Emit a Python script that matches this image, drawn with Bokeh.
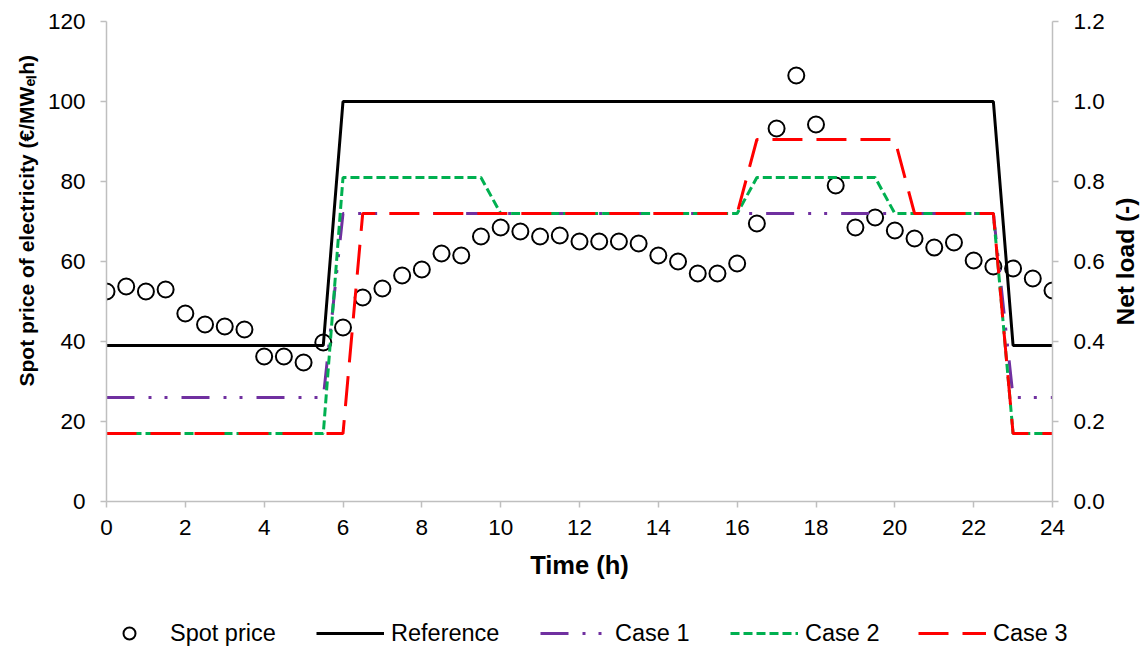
from bokeh.plotting import figure
from bokeh.layouts import column, row
from bokeh.models import (Range1d, LinearAxis, FixedTicker, NumeralTickFormatter,
                          Legend, LegendItem, Title)
from bokeh.embed import file_html
from bokeh.resources import INLINE

# ---------------- data ----------------
time_h = [0, 0.5, 1, 1.5, 2, 2.5, 3, 3.5, 4, 4.5, 5, 5.5, 6, 6.5, 7, 7.5, 8, 8.5,
          9, 9.5, 10, 10.5, 11, 11.5, 12, 12.5, 13, 13.5, 14, 14.5, 15, 15.5, 16,
          16.5, 17, 17.5, 18, 18.5, 19, 19.5, 20, 20.5, 21, 21.5, 22, 22.5, 23,
          23.5, 24]
spot_price = [52.5, 53.75, 52.5, 53, 47, 44.25, 43.75, 43, 36.25, 36.25, 34.75,
              39.75, 43.5, 51, 53.25, 56.5, 58, 62, 61.5, 66.25, 68.5, 67.5, 66.25,
              66.5, 65, 65, 65, 64.5, 61.5, 60, 57, 57, 59.5, 69.5, 93.25, 106.5,
              94.25, 79, 68.5, 71, 67.75, 65.75, 63.5, 64.75, 60.25, 58.75, 58.25,
              55.75, 52.75]

ref_time = [0, 5.5, 6, 22.5, 23, 24]
ref_load = [0.39, 0.39, 1.0, 1.0, 0.39, 0.39]

case1_time = [0, 5.5, 6, 22.5, 23, 24]
case1_load = [0.26, 0.26, 0.72, 0.72, 0.26, 0.26]

case2_time = [0, 5.5, 6, 9.5, 10, 16, 16.5, 19.5, 20, 22.5, 23, 24]
case2_load = [0.17, 0.17, 0.81, 0.81, 0.72, 0.72, 0.81, 0.81, 0.72, 0.72, 0.17, 0.17]

case3_time = [0, 6, 6.5, 16, 16.5, 20, 20.5, 22.5, 23, 24]
case3_load = [0.17, 0.17, 0.72, 0.72, 0.905, 0.905, 0.72, 0.72, 0.17, 0.17]

x_ticks = [0, 2, 4, 6, 8, 10, 12, 14, 16, 18, 20, 22, 24]
price_ticks = [0, 20, 40, 60, 80, 100, 120]
load_ticks = [0.0, 0.2, 0.4, 0.6, 0.8, 1.0, 1.2]

series_names = ["Spot price", "Reference", "Case 1", "Case 2", "Case 3"]
x_title = "Time (h)"
y_title = "Spot price of electricity (€/MW\u2091\u2097h)"
y2_title = "Net load (-)"

# ---------------- style ----------------
FONT = "Liberation Sans"
GRAY = "#BFBFBF"
PURPLE = "#7030A0"
GREEN = "#00B050"
RED = "#FF0000"
W_MAIN = 1108
W_SIDE = 40
H_MAIN = 600
H_LEG = 48

p = figure(width=W_MAIN, height=H_MAIN, output_backend="svg", toolbar_location=None,
           x_range=Range1d(0, 24), y_range=Range1d(0, 120),
           min_border_left=106, min_border_right=W_MAIN - 1052, min_border_top=21,
           min_border_bottom=H_MAIN - 501, outline_line_color=None,
           background_fill_color="white", border_fill_color="white")
p.frame_align = False
p.extra_y_ranges = {"load": Range1d(0, 1.2)}
p.xgrid.visible = False
p.ygrid.visible = False


def style_axis(ax, ticks, standoff):
    ax.ticker = FixedTicker(ticks=ticks, minor_ticks=[])
    ax.axis_line_color = GRAY
    ax.axis_line_width = 1.5
    ax.major_tick_line_color = GRAY
    ax.major_tick_line_width = 1.5
    ax.major_tick_out = 6
    ax.major_tick_in = 0
    ax.minor_tick_line_color = None
    ax.major_label_text_font = FONT
    ax.major_label_text_font_size = "22.5px"
    ax.major_label_text_color = "#000000"
    ax.major_label_standoff = standoff
    ax.axis_label_text_font = FONT
    ax.axis_label_text_font_style = "bold"
    ax.axis_label_text_color = "#000000"


xa = p.xaxis[0]
style_axis(xa, x_ticks, 12)
xa.axis_label = x_title
xa.axis_label_text_font_size = "25.5px"
xa.axis_label_standoff = 13

ya = p.yaxis[0]
style_axis(ya, price_ticks, 15)

right_axis = LinearAxis(y_range_name="load",
                        formatter=NumeralTickFormatter(format="0.0"))
style_axis(right_axis, load_ticks, 15)
p.add_layout(right_axis, "right")

left_title = Title(text=y_title, align="left", offset=115,
                   text_font=FONT, text_font_size="21px", text_font_style="bold",
                   text_color="#000000", standoff=14)
p.add_layout(left_title, "left")

# ---------------- glyphs ----------------
line_series = [(ref_time, ref_load), (case1_time, case1_load),
               (case2_time, case2_load), (case3_time, case3_load)]
line_styles = [
    dict(line_color="black", line_width=3),
    dict(line_color=PURPLE, line_width=3, line_dash="28 14 3 13 3 14"),
    dict(line_color=GREEN, line_width=3, line_dash="9 4"),
    dict(line_color=RED, line_width=3, line_dash="30 14"),
]
spot_style = dict(marker="circle", fill_color=None, line_color="black", line_width=2)

p.scatter(time_h, spot_price, size=16, **spot_style)
for (xs, ys), st in zip(line_series, line_styles):
    p.line(xs, ys, y_range_name="load", **st)

# ---------------- right axis title (narrow side strip) ----------------
r = figure(width=W_SIDE, height=H_MAIN, output_backend="svg", toolbar_location=None,
           x_axis_type=None, y_axis_type=None, min_border=0,
           x_range=Range1d(0, 1), y_range=Range1d(0, 1),
           outline_line_color=None, background_fill_color="white",
           border_fill_color="white")
r.frame_align = False
r.xgrid.visible = False
r.ygrid.visible = False
r.add_layout(Title(text=y2_title, align="left", offset=H_MAIN - 325,
                   text_font=FONT, text_font_size="24.5px", text_font_style="bold",
                   text_color="#000000", standoff=2), "left")

# ---------------- legend strip (same series, drawn outside its view) ----------------
q = figure(width=W_MAIN + W_SIDE, height=H_LEG, output_backend="svg",
           toolbar_location=None, x_range=Range1d(0, 24), y_range=Range1d(-2, -1),
           x_axis_type=None, y_axis_type=None, min_border=0,
           outline_line_color=None, background_fill_color="white",
           border_fill_color="white")
q.frame_align = False
q.xgrid.visible = False
q.ygrid.visible = False

leg_renderers = [q.scatter(time_h, spot_price, size=12, **spot_style)]
for (xs, ys), st in zip(line_series, line_styles):
    leg_renderers.append(q.line(xs, ys, **st))

legend_x = [95, 316, 540, 730, 918]
for name, rr, lx in zip(series_names, leg_renderers, legend_x):
    lg = Legend(items=[LegendItem(label=name, renderers=[rr])],
                location=(lx, 0), orientation="horizontal",
                glyph_width=68, glyph_height=30, label_standoff=7,
                label_height=30, padding=0, margin=0, spacing=0,
                border_line_color=None, background_fill_alpha=0,
                label_text_font=FONT, label_text_font_size="23.5px",
                label_text_color="black")
    q.add_layout(lg)

layout = column(row(p, r, spacing=0), q, spacing=0)
open("out.html", "w").write(file_html(layout, INLINE))
